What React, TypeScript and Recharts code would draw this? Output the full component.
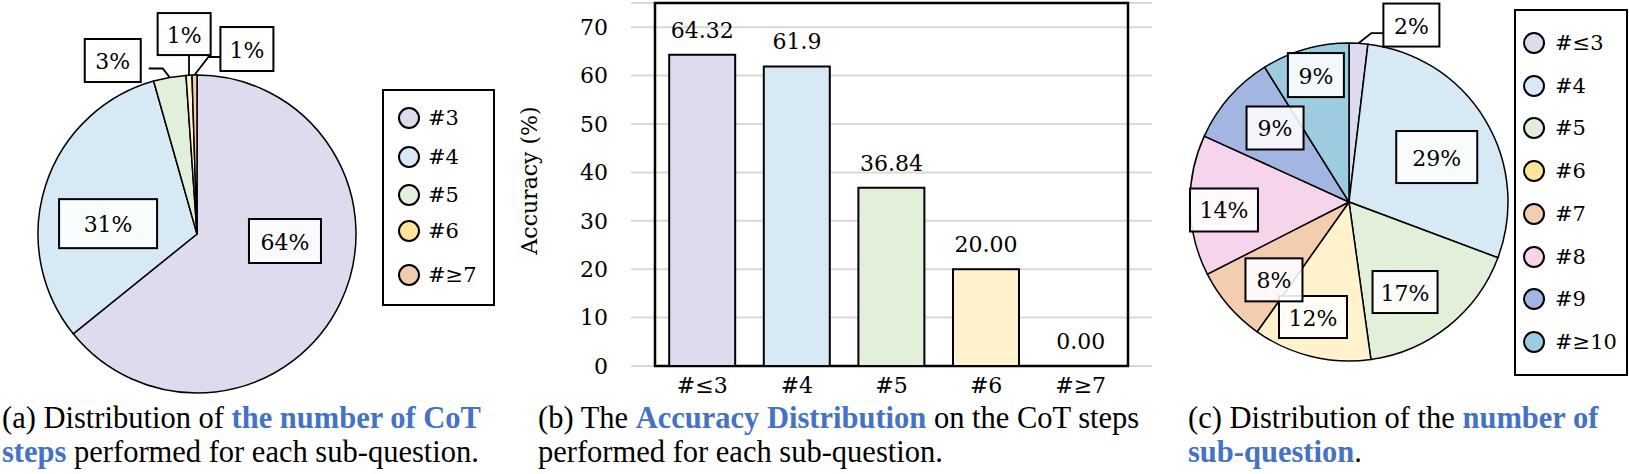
import React from 'react';
import {
  PieChart, Pie, Cell, ComposedChart, Bar, Line, XAxis, YAxis, CartesianGrid,
  ReferenceArea, Legend,
} from 'recharts';

// ---------- data ----------
const stepCategories = ['#3', '#4', '#5', '#6', '#≥7'];
const stepShares = [64.2, 31.4, 3.3, 0.6, 0.5];

const accCategories = ['#≤3', '#4', '#5', '#6', '#≥7'];
const accValues = [64.32, 61.9, 36.84, 20.0, 0.0];
const accLabels = ['64.32', '61.9', '36.84', '20.00', '0.00'];
const accTicks = [0, 10, 20, 30, 40, 50, 60, 70];

const subqCategories = ['#≤3', '#4', '#5', '#6', '#7', '#8', '#9', '#≥10'];
const subqShares = [1.9, 28.8, 17.1, 12.0, 7.7, 14.3, 9.3, 8.9];

// ---------- styles ----------
const FONT = '"DejaVu Serif", serif';
const CAP = '"Liberation Serif", "Times New Roman", serif';
const BLUE = '#4472C4';

const stepColors = ['#DEDBEF', '#D7E9F4', '#E2EFDA', '#FFF2CC', '#F4CCB0'];
const stepLegendColors = ['#DEDBEF', '#D7E9F4', '#E2EFDA', '#FFE699', '#F2CBAE'];
const accColors = ['#DEDBEF', '#D7E9F4', '#E2EFDA', '#FFF2CC', '#F4CCB0'];
const subqColors = ['#DEDBEF', '#D7E9F4', '#E2EFDA', '#FFF2CC', '#F4CCB0', '#F6D5EC', '#A3B6E1', '#9DCCE0'];
const subqLegendColors = ['#DEDBEF', '#D7E9F4', '#E2EFDA', '#FFE699', '#F4CCB0', '#F6D5EC', '#A3B6E1', '#9DCCE0'];

// label placement: [radius fraction, angle shift (deg, clockwise)]
const stepLabelPlace = [[0.555, -21], [0.563, -11], [1.213, -16], [1.26, -0.8], [1.205, 16]];
const stepBoxW = [72, 98, 56, 53, 53];
const stepBoxH = [44, 49, 43, 42, 44];
const subqLabelPlace = [[1.18, 16], [0.62, 4.2], [0.667, 6.8], [0.758, 3.7], [0.68, -5.2], [0.788, -2.4], [0.658, 3.8], [0.825, 1.4]];
const subqBoxW = [56, 81, 65, 68, 57, 68, 57, 56];
const subqBoxH = [43, 52, 42, 42, 43, 43, 43, 44];

const RAD = Math.PI / 180;

function makeLabel(place: number[][], boxW: number[], boxH: number[]) {
  return (props: any) => {
    const { cx, cy, midAngle, outerRadius, percent, index } = props;
    const [rf, da] = place[index];
    const thetaMid = 90 - midAngle;
    const t = (thetaMid + da) * RAD;
    const R = outerRadius * rf;
    const bx = cx + R * Math.sin(t);
    const by = cy - R * Math.cos(t);
    const w = boxW[index];
    const h = boxH[index];
    let leader: any = null;
    if (rf > 1) {
      const ex = cx + outerRadius * Math.sin(thetaMid * RAD);
      const ey = cy - outerRadius * Math.cos(thetaMid * RAD);
      let pts = '';
      if (Math.abs(bx - ex) < w / 2 - 4) {
        pts = `${ex},${ey} ${ex},${by + h / 2}`;
      } else if (bx > ex) {
        const sx = bx - w / 2;
        const ly = by + 8;
        pts = `${ex},${ey} ${sx - 12},${ly} ${sx},${ly}`;
      } else {
        const sx = bx + w / 2;
        const ly = by + 8;
        pts = `${ex},${ey} ${sx + 22},${ly} ${sx + 8},${ly}`;
      }
      leader = <polyline points={pts} fill="none" stroke="#000" strokeWidth={1.8} />;
    }
    return (
      <g>
        {leader}
        <rect x={bx - w / 2} y={by - h / 2} width={w} height={h} fill="#fff" fillOpacity={0.88} stroke="#000" strokeWidth={2} />
        <text x={bx} y={by + 1} textAnchor="middle" dominantBaseline="central" fontFamily={FONT} fontSize={22} fill="#000">
          {`${Math.round(percent * 100)}%`}
        </text>
      </g>
    );
  };
}

function BoxLegend({ names, colors, centers, circleX, textX }: any) {
  return (
    <div style={{ position: 'relative', boxSizing: 'border-box', width: '100%', height: '100%', border: '2px solid #000', background: '#fff' }}>
      {names.map((n: string, i: number) => (
        <div key={n} style={{ position: 'absolute', left: 0, top: centers[i] - 15, height: 30, width: '100%' }}>
          <svg width={40} height={30} style={{ position: 'absolute', left: circleX - 20, top: 0 }}>
            <circle cx={20} cy={15} r={10} fill={colors[i]} stroke="#000" strokeWidth={2} />
          </svg>
          <span style={{ position: 'absolute', left: textX, top: 0, lineHeight: '30px', fontFamily: FONT, fontSize: 21, color: '#000', whiteSpace: 'nowrap' }}>{n}</span>
        </div>
      ))}
    </div>
  );
}

const stepData = stepCategories.map((name, i) => ({ name, value: stepShares[i] }));
const accData = accCategories.map((name, i) => ({ name, value: accValues[i], label: accLabels[i] }));
const subqData = subqCategories.map((name, i) => ({ name, value: subqShares[i] }));

const capStyle: React.CSSProperties = {
  position: 'absolute', top: 401, fontFamily: CAP, fontSize: 30.5, lineHeight: '34px', color: '#000', whiteSpace: 'nowrap',
};
const hl: React.CSSProperties = { color: BLUE, fontWeight: 'bold' };

const renderValueLabel = (p: any) => {
  const { x, y, index } = p;
  if (x == null || y == null) return null;
  return (
    <text key={`vl-${index}`} x={x} y={y - 17} textAnchor="middle" fontFamily={FONT} fontSize={22} fill="#000">
      {accLabels[index]}
    </text>
  );
};

export default function App() {
  return (
    <div style={{ position: 'absolute', left: 0, top: 0, width: 1629, height: 474, background: '#fff', overflow: 'hidden' }}>
      {/* (a) */}
      <div style={{ position: 'absolute', left: 0, top: 0 }}>
        <PieChart width={500} height={400} margin={{ top: 0, right: 0, bottom: 0, left: 0 }}>
          <Pie
            data={stepData}
            dataKey="value"
            nameKey="name"
            cx={197}
            cy={234}
            outerRadius={159}
            startAngle={90}
            endAngle={-270}
            stroke="#000"
            strokeWidth={1.5}
            isAnimationActive={false}
            labelLine={false}
            label={makeLabel(stepLabelPlace, stepBoxW, stepBoxH)}
          >
            {stepData.map((d, i) => <Cell key={d.name} fill={stepColors[i]} />)}
          </Pie>
          <Legend
            wrapperStyle={{ position: 'absolute', left: 382, top: 89, width: 113, height: 217 }}
            content={() => (
              <BoxLegend names={stepCategories} colors={stepLegendColors} centers={[27, 66, 104, 140, 184]} circleX={25} textX={44} />
            )}
          />
        </PieChart>
      </div>

      {/* (b) */}
      <div style={{ position: 'absolute', left: 500, top: 0 }}>
        <ComposedChart width={660} height={400} data={accData} margin={{ top: 3, right: 8, bottom: 4, left: 0 }} barCategoryGap="15%">
          <CartesianGrid vertical={false} stroke="#D9D9D9" strokeWidth={2} />
          <XAxis
            dataKey="name"
            padding={{ left: 24, right: 24 }}
            axisLine={false}
            tickLine={false}
            tickSize={0}
            tickMargin={11}
            height={30}
            interval={0}
            tick={{ fill: '#000', fontSize: 22, fontFamily: FONT }}
          />
          <YAxis
            domain={[0, 75]}
            ticks={accTicks}
            width={131}
            axisLine={false}
            tickLine={false}
            tickSize={0}
            tickMargin={23}
            interval={0}
            tick={{ fill: '#000', fontSize: 22, fontFamily: FONT }}
            label={{
              content: (p: any) => {
                const vb = p.viewBox || { x: 0, y: 3, width: 131, height: 363 };
                const x = vb.x + 37;
                const y = vb.y + vb.height / 2 - 4;
                return (
                  <text x={x} y={y} transform={`rotate(-90, ${x}, ${y})`} textAnchor="middle" fontFamily={FONT} fontSize={22} fill="#000">
                    Accuracy (%)
                  </text>
                );
              },
            }}
          />
          <Bar dataKey="value" stroke="#000" strokeWidth={2} isAnimationActive={false}>
            {accData.map((d, i) => <Cell key={d.name} fill={accColors[i]} />)}
          </Bar>
          <Line
            dataKey="value"
            stroke="none"
            dot={false}
            activeDot={false}
            legendType="none"
            isAnimationActive={false}
            label={renderValueLabel}
          />
          <ReferenceArea y1={0} y2={75} fill="none" fillOpacity={0} stroke="#000" strokeWidth={2.5} ifOverflow="visible" />
        </ComposedChart>
      </div>

      {/* (c) */}
      <div style={{ position: 'absolute', left: 1110, top: 0 }}>
        <PieChart width={519} height={400} margin={{ top: 0, right: 0, bottom: 0, left: 0 }}>
          <Pie
            data={subqData}
            dataKey="value"
            nameKey="name"
            cx={239}
            cy={202}
            outerRadius={159}
            startAngle={90}
            endAngle={-270}
            stroke="#000"
            strokeWidth={1.5}
            isAnimationActive={false}
            labelLine={false}
            label={makeLabel(subqLabelPlace, subqBoxW, subqBoxH)}
          >
            {subqData.map((d, i) => <Cell key={d.name} fill={subqColors[i]} />)}
          </Pie>
          <Legend
            wrapperStyle={{ position: 'absolute', left: 404, top: 9, width: 114, height: 367 }}
            content={() => (
              <BoxLegend names={subqCategories} colors={subqLegendColors} centers={[32, 74.7, 117.4, 160, 202.8, 245.5, 288, 331]} circleX={18} textX={39} />
            )}
          />
        </PieChart>
      </div>

      {/* captions */}
      <div style={{ ...capStyle, left: 2 }}>
        (a) Distribution of <span style={hl}>the number of CoT</span>
        <br />
        <span style={hl}>steps</span> performed for each sub-question.
      </div>
      <div style={{ ...capStyle, left: 538 }}>
        (b) The <span style={hl}>Accuracy Distribution</span> on the CoT steps
        <br />
        performed for each sub-question.
      </div>
      <div style={{ ...capStyle, left: 1188 }}>
        (c) Distribution of the <span style={hl}>number of</span>
        <br />
        <span style={hl}>sub-question</span>.
      </div>
    </div>
  );
}
